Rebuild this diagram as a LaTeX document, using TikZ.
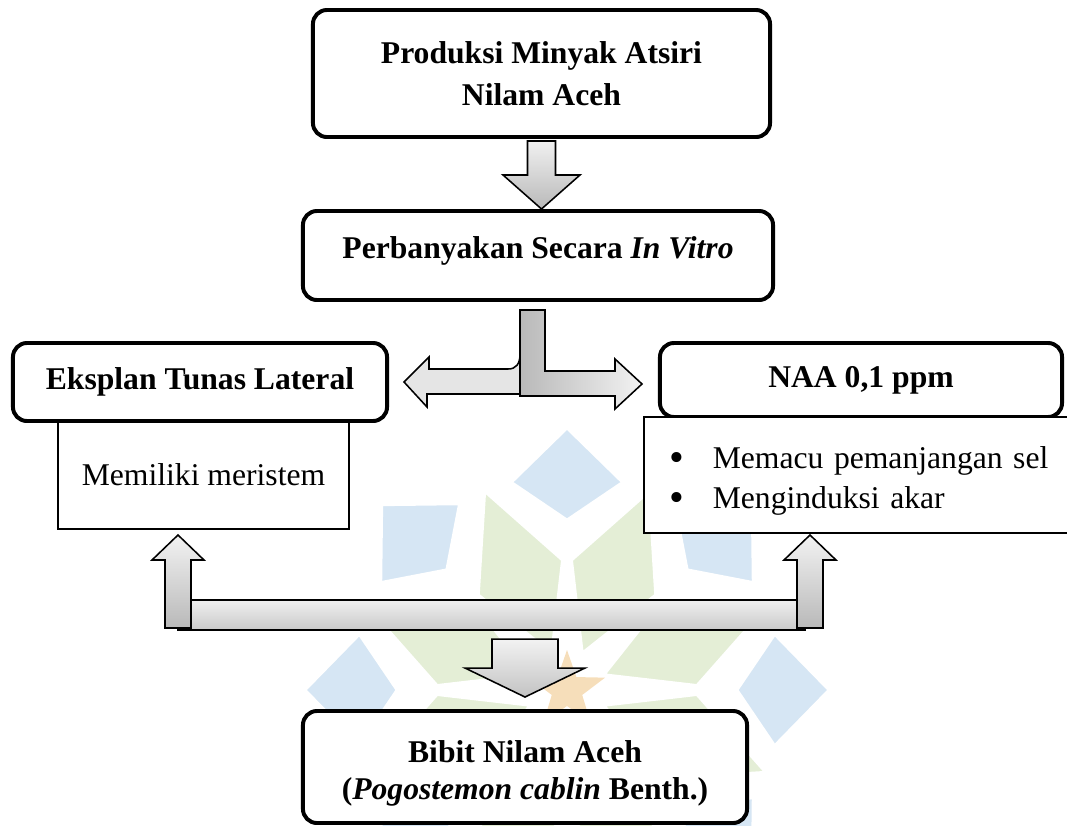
\documentclass[tikz,border=0pt]{standalone}
\usepackage{fontspec}
\setmainfont{Liberation Serif}
\usepackage{tikz}

\definecolor{wmblue}{RGB}{214,230,244}
\definecolor{wmgreen}{RGB}{228,238,214}
\definecolor{wmstar}{RGB}{246,222,186}
\newcommand{\bigbul}{\makebox[1.07cm][l]{\raisebox{-2pt}{\fontsize{30}{30}\selectfont\textbullet}}}

\begin{document}
\begin{tikzpicture}[x=0.025cm,y=-0.025cm,
  rbox/.style={draw,line width=2.8pt,rounded corners=0.35cm,fill=white,inner sep=0pt,
    align=center,font=\fontsize{22.5}{30}\selectfont\bfseries},
  pbox/.style={draw,line width=1pt,fill=white,inner sep=0pt,font=\fontsize{22.5}{28.5}\selectfont},
  blk/.style={draw,line width=1.1pt,line join=miter},
  vshade/.style={blk,top color=gray!10,bottom color=gray!55}]
  \useasboundingbox (0,0) rectangle (1067,825);

  % watermark behind the chart
  \begin{scope}
    \clip (0,0) rectangle (1067,825);
    \begin{scope}[shift={(567,690)}]
      \foreach \a in {0,45,...,315} {
        \filldraw[fill=wmblue,draw=white,line width=2pt]
          (\a:170) -- (\a-15:215) -- (\a:262) -- (\a+15:215) -- cycle;
        \filldraw[fill=wmgreen,draw=white,line width=2pt]
          (\a+22.5:40) -- (\a+2:130) -- (\a+22.5:215) -- (\a+43:130) -- cycle;
      }
      \fill[wmstar] (-90:40) -- (-54:16) -- (-18:40) -- (18:16) -- (54:40) -- (90:16)
        -- (126:40) -- (162:16) -- (198:40) -- (234:16) -- cycle;
    \end{scope}
  \end{scope}

  \node[rbox,minimum width=11.425cm,minimum height=3.175cm] (prod) at (541.5,73.5)
    {Produksi Minyak Atsiri\\Nilam Aceh};
  \node[rbox,minimum width=11.75cm,minimum height=2.225cm,text height=10pt,text depth=6pt]
    (perb) at (538,255.5) {Perbanyakan Secara \textit{In Vitro}};
  \node[pbox,minimum width=7.275cm,minimum height=2.7cm] (memil) at (203.5,475) {Memiliki meristem};
  \node[rbox,minimum width=9.35cm,minimum height=1.95cm] (eks) at (200,382) {Eksplan Tunas Lateral};
  \node[rbox,minimum width=10.05cm,minimum height=1.85cm] (naa) at (861,380) {NAA 0,1 ppm};
  \node[pbox,minimum height=2.9cm,text width=9.8cm,inner xsep=0.65cm,align=left] (list) at (866,475)
    {\rule{0pt}{24pt}\bigbul Memacu pemanjangan sel\\
     \bigbul Menginduksi akar};
  \node[rbox,minimum width=11.1cm,minimum height=2.8cm,font=\fontsize{22.5}{26}\selectfont\bfseries]
    (bibit) at (525,767) {\rule{0pt}{25pt}Bibit Nilam Aceh\\(\textit{Pogostemon cablin} Benth.)};

  % block arrows
  \draw[vshade] (prod.south) ++(-14,2) -- ++(0,34) -- ++(-24.5,0) -- ++(38.5,34)
    -- ++(38.5,-34) -- ++(-24.5,0) -- ++(0,-34) -- cycle;

  \draw[blk,fill=gray!20] (eks.east) ++(15,0) -- ++(25,-25) -- ++(0,12) -- (508,369)
    .. controls (516,369) and (520,364) .. (520,354) -- (528,354) -- (528,394)
    -- (427,394) -- (427,407) -- cycle;
  \draw[blk,left color=gray!55,right color=gray!10] (perb.south) ++(-18,8) -- ++(25,0)
    -- ++(0,61) -- ++(70,0) -- ++(0,-12) -- ++(27,25) -- ++(-27,25) -- ++(0,-13)
    -- ++(-95,0) -- cycle;

  \coordinate (upl) at (178,628);
  \coordinate (upr) at (810,628);
  \draw[blk,top color=gray!12,bottom color=gray!42] (178,600) rectangle (805,630);
  \draw[vshade] (upl) ++(-13,0) -- ++(0,-68) -- ++(-13,0) -- ++(26,-25) -- ++(26,25)
    -- ++(-13,0) -- ++(0,68) -- cycle;
  \draw[vshade] (upr) ++(-13,0) -- ++(0,-68) -- ++(-13,0) -- ++(26,-25) -- ++(26,25)
    -- ++(-13,0) -- ++(0,68) -- cycle;

  \draw[vshade] (bibit.north) ++(-33,-70) -- ++(0,29) -- ++(-27,0) -- ++(60,29)
    -- ++(60,-29) -- ++(-27,0) -- ++(0,-29) -- cycle;
\end{tikzpicture}
\end{document}
